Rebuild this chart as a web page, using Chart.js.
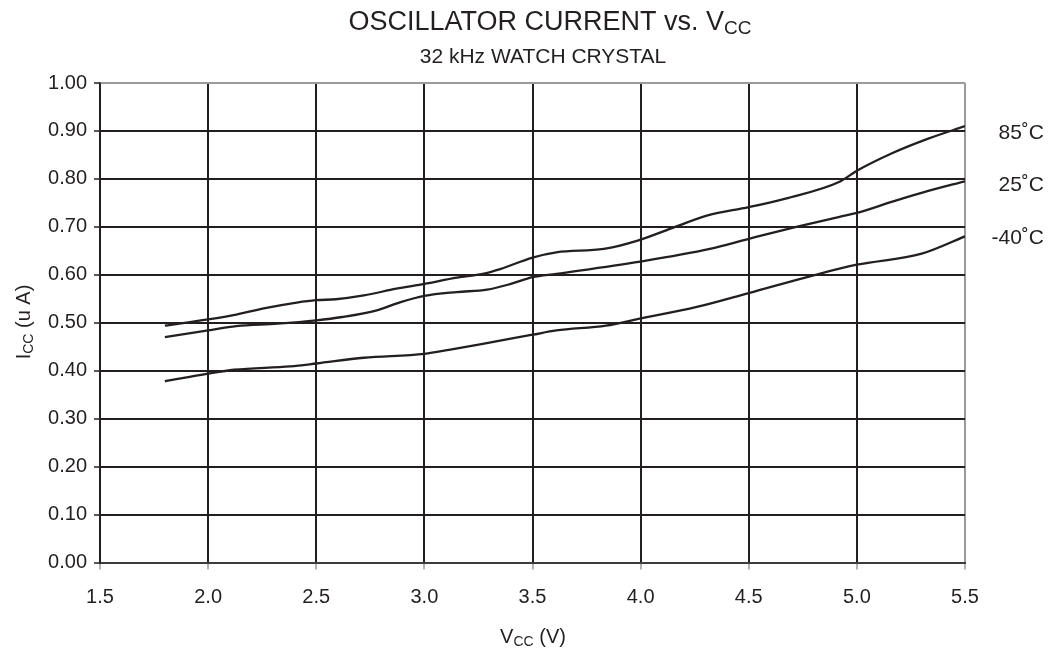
<!DOCTYPE html>
<html>
<head>
<meta charset="utf-8">
<script src="https://cdn.jsdelivr.net/npm/chart.js@4.4.1/dist/chart.umd.min.js"></script>
<style>
html,body{margin:0;padding:0;background:#fff;}
#wrap{width:1059px;height:650px;}
</style>
</head>
<body>
<div id="wrap"><canvas id="c" width="1059" height="650"></canvas></div>
<script>
// ---- data ----
const vcc85 = [1.8, 2.0, 2.13, 2.27, 2.41, 2.5, 2.59, 2.72, 2.87, 3.0, 3.15, 3.27, 3.35, 3.5, 3.61, 3.83, 3.99, 4.16, 4.31, 4.5, 4.67, 4.92, 5.0, 5.16, 5.33, 5.5];
const icc85 = [0.494, 0.507, 0.517, 0.531, 0.542, 0.547, 0.549, 0.557, 0.571, 0.581, 0.594, 0.602, 0.612, 0.636, 0.647, 0.654, 0.672, 0.700, 0.724, 0.741, 0.759, 0.794, 0.817, 0.853, 0.884, 0.910];

const vcc25 = [1.8, 2.0, 2.13, 2.32, 2.5, 2.62, 2.78, 2.89, 3.0, 3.15, 3.29, 3.4, 3.5, 3.61, 3.99, 4.32, 4.5, 4.72, 4.92, 5.0, 5.16, 5.33, 5.5];
const icc25 = [0.470, 0.484, 0.493, 0.498, 0.505, 0.512, 0.526, 0.543, 0.556, 0.564, 0.569, 0.581, 0.595, 0.602, 0.627, 0.654, 0.675, 0.700, 0.721, 0.729, 0.752, 0.775, 0.795];

const vccM40 = [1.8, 2.0, 2.12, 2.38, 2.5, 2.72, 3.0, 3.12, 3.27, 3.5, 3.61, 3.84, 3.99, 4.26, 4.5, 4.8, 5.0, 5.3, 5.5];
const iccM40 = [0.378, 0.394, 0.402, 0.409, 0.415, 0.427, 0.435, 0.444, 0.456, 0.475, 0.484, 0.494, 0.508, 0.533, 0.562, 0.599, 0.621, 0.644, 0.680];

const seriesLabels = ['85˚C', '25˚C', '-40˚C'];
const seriesLabelValues = [0.90, 0.79, 0.68];

const xTickValues = [1.5, 2.0, 2.5, 3.0, 3.5, 4.0, 4.5, 5.0, 5.5];
const yTickValues = [0, 0.1, 0.2, 0.3, 0.4, 0.5, 0.6, 0.7, 0.8, 0.9, 1.0];

const titleMain = 'OSCILLATOR CURRENT vs. V';
const titleSub = 'CC';
const subtitle = '32 kHz WATCH CRYSTAL';
const xTitle = ['V', 'CC', ' (V)'];
const yTitle = ['I', 'CC', ' (u A)'];

// ---- build ----
const FONT = '"Liberation Sans", Arial, Helvetica, sans-serif';
const INK = '#231f20';
const GRAY = '#9a9a9a';

function pts(xs, ys) { return xs.map((x, i) => ({x: x, y: ys[i]})); }

function lineDs(label, xs, ys) {
  return {
    label: label,
    data: pts(xs, ys),
    borderColor: INK,
    borderWidth: 2.3,
    pointRadius: 0,
    fill: false,
    cubicInterpolationMode: 'monotone',
    tension: 0.4
  };
}

function drawRich(ctx, segs, x, y, align) {
  let total = 0;
  segs.forEach(s => { ctx.font = s.size + 'px ' + FONT; s.w = ctx.measureText(s.t).width; total += s.w; });
  let cx = align === 'center' ? x - total / 2 : (align === 'right' ? x - total : x);
  ctx.textAlign = 'left';
  ctx.textBaseline = 'alphabetic';
  segs.forEach(s => {
    ctx.font = s.size + 'px ' + FONT;
    ctx.fillText(s.t, cx, y + (s.dy || 0));
    cx += s.w;
  });
}

const textPlugin = {
  id: 'textPlugin',
  afterDraw(chart) {
    const ctx = chart.ctx;
    const ys = chart.scales.y;
    ctx.save();
    ctx.fillStyle = INK;
    // title
    drawRich(ctx, [{t: titleMain, size: 27}, {t: titleSub, size: 19, dy: 4}], 550, 30, 'center');
    drawRich(ctx, [{t: subtitle, size: 21}], 543, 63, 'center');
    // x axis title
    drawRich(ctx, [{t: xTitle[0], size: 20}, {t: xTitle[1], size: 14, dy: 3}, {t: xTitle[2], size: 20}], 533, 643, 'center');
    // y axis title (rotated)
    ctx.save();
    ctx.translate(30, 322);
    ctx.rotate(-Math.PI / 2);
    drawRich(ctx, [{t: yTitle[0], size: 20}, {t: yTitle[1], size: 14, dy: 3}, {t: yTitle[2], size: 20}], 0, 0, 'center');
    ctx.restore();
    // series labels
    seriesLabels.forEach((lab, i) => {
      const py = ys.getPixelForValue(seriesLabelValues[i]);
      drawRich(ctx, [{t: lab, size: 21}], 1044, py + 0.36 * 21, 'right');
    });
    ctx.restore();
  }
};

new Chart(document.getElementById('c'), {
  type: 'line',
  data: {
    datasets: [
      lineDs(seriesLabels[0], vcc85, icc85),
      lineDs(seriesLabels[1], vcc25, icc25),
      lineDs(seriesLabels[2], vccM40, iccM40)
    ]
  },
  options: {
    responsive: false,
    animation: false,
    devicePixelRatio: 1,
    layout: { padding: { top: 83, right: 94, left: 0, bottom: 0 } },
    plugins: { legend: { display: false }, title: { display: false }, tooltip: { enabled: false } },
    scales: {
      x: {
        type: 'linear',
        min: xTickValues[0],
        max: xTickValues[xTickValues.length - 1],
        afterBuildTicks: s => { s.ticks = xTickValues.map(v => ({value: v})); },
        afterFit: s => { s.height = 87.5; },
        ticks: {
          color: INK,
          font: { family: FONT, size: 20 },
          padding: 16,
          maxRotation: 0,
          autoSkip: false,
          callback: v => Number(v).toFixed(1)
        },
        grid: {
          color: c => (c.tick && c.tick.value === 5.5) ? GRAY : INK,
          lineWidth: 2,
          drawTicks: true,
          tickLength: 7,
          tickColor: '#666',
          tickWidth: 1
        },
        border: { display: true, color: '#3c3c3c', width: 2 }
      },
      y: {
        type: 'linear',
        min: 0,
        max: 1,
        afterBuildTicks: s => { s.ticks = yTickValues.map(v => ({value: v})); },
        afterFit: s => { s.width = 100; },
        ticks: {
          color: INK,
          font: { family: FONT, size: 20 },
          padding: 7,
          autoSkip: false,
          callback: v => Number(v).toFixed(2)
        },
        grid: {
          color: c => (c.tick && c.tick.value === 1) ? GRAY : INK,
          lineWidth: 2,
          drawTicks: true,
          tickLength: 6,
          tickColor: INK,
          tickWidth: 1.5
        },
        border: { display: true, color: INK, width: 1.5 }
      }
    }
  },
  plugins: [textPlugin]
});
</script>
</body>
</html>
